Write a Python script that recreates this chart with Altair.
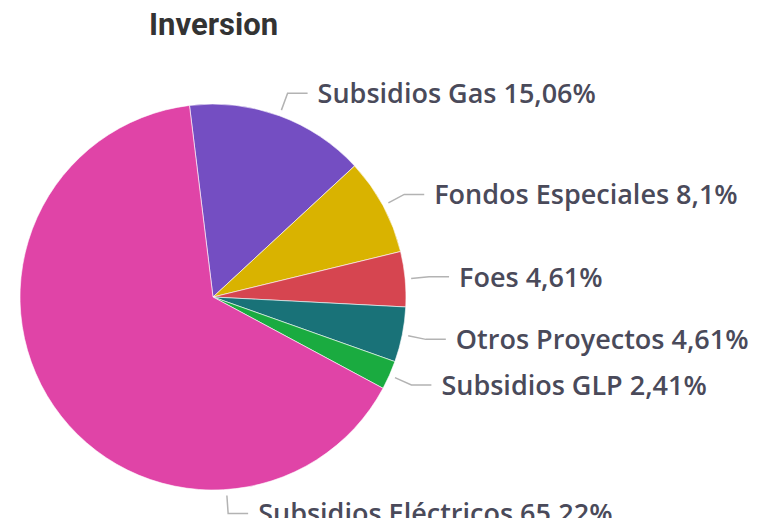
import math
import pandas as pd
import altair as alt

# ---- data ----
categories = ["Subsidios Gas", "Fondos Especiales", "Foes", "Otros Proyectos",
              "Subsidios GLP", "Subsidios Eléctricos"]
values = [15.06, 8.1, 4.61, 4.61, 2.41, 65.22]
colors = ["#744EC2", "#D9B300", "#D64550", "#197278", "#1AAB40", "#E044A7"]

# ---- layout ----
START = math.radians(-7)       # rotation of first slice
R = 193                        # pie radius (px)
R_START, R_ELBOW = R + 6, R + 24
HSEG, GAP = 20, 10
W, H, PAD_TOP = 743, 465, 45
CX, CY = 205, 244              # pie centre inside the plot area

total = sum(values)
pie_rows, line_rows, text_rows = [], [], []
cum = 0.0
for i, (c, v) in enumerate(zip(categories, values)):
    mid = START + 2 * math.pi * (cum + v / 2) / total
    cum += v
    ang = mid if math.sin(mid) >= 0 else math.radians(176)
    x1, y1 = R_START * math.sin(ang), R_START * math.cos(ang)
    x2, y2 = R_ELBOW * math.sin(ang), R_ELBOW * math.cos(ang)
    x3 = x2 + HSEG
    pie_rows.append({"cat": c, "value": v, "idx": i})
    for k, (xx, yy) in enumerate([(x1, y1), (x2, y2), (x3, y2)]):
        line_rows.append({"cat": c, "k": k, "x": xx, "y": yy})
    lbl = f"{c} {('%g' % v).replace('.', ',')}%"
    text_rows.append({"cat": c, "x": x3 + GAP, "y": y2, "label": lbl})

pie_df = pd.DataFrame(pie_rows)
line_df = pd.DataFrame(line_rows)
text_df = pd.DataFrame(text_rows)

xs = alt.Scale(domain=[-CX, W - CX])
ys = alt.Scale(domain=[-(H - CY), CY])

pie = alt.Chart(pie_df).mark_arc(radius=R, stroke="white", strokeWidth=0.6).encode(
    theta=alt.Theta("value:Q", stack=True,
                    scale=alt.Scale(range=[START, START + 2 * math.pi])),
    color=alt.Color("cat:N", scale=alt.Scale(domain=categories, range=colors), legend=None),
    order=alt.Order("idx:Q"),
    x=alt.XDatum(0, type="quantitative", scale=xs, axis=None),
    y=alt.YDatum(0, type="quantitative", scale=ys, axis=None),
)

lines = alt.Chart(line_df).mark_line(color="#B3B3B3", strokeWidth=1.5).encode(
    x=alt.X("x:Q", scale=xs, axis=None),
    y=alt.Y("y:Q", scale=ys, axis=None),
    detail="cat:N",
    order="k:Q",
)

texts = alt.Chart(text_df).mark_text(
    align="left", baseline="middle", font="Open Sans", fontSize=27,
    fontWeight=600, color="#4A4A5A", dy=2
).encode(
    x=alt.X("x:Q", scale=xs, axis=None),
    y=alt.Y("y:Q", scale=ys, axis=None),
    text="label:N",
)

chart = alt.layer(pie, lines, texts).properties(
    width=W, height=H,
    background="white",
    autosize=alt.AutoSizeParams(type="none"),
    padding={"left": 0, "top": PAD_TOP, "right": 0, "bottom": 0},
    title=alt.Title("Inversion", anchor="start", font="Roboto", fontSize=31,
                    fontWeight="bold", color="#333333", dx=141, offset=17,
                    dy=30, baseline="alphabetic"),
).configure_view(stroke="transparent", strokeWidth=0)

chart.save("out.html", embed_options={"renderer": "svg", "actions": False})
